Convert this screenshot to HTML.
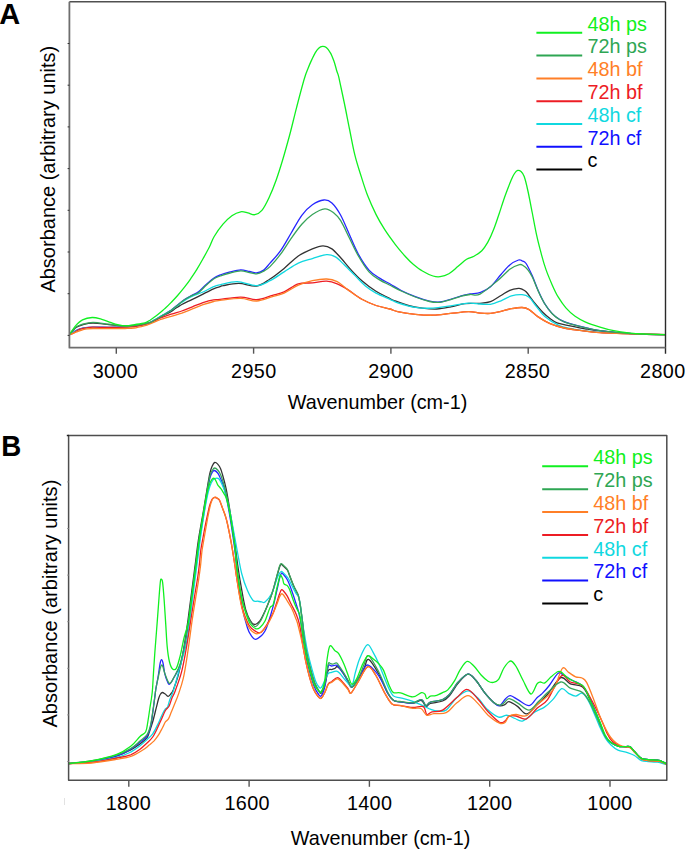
<!DOCTYPE html>
<html><head><meta charset="utf-8"><style>
html,body{margin:0;padding:0;background:#fff;width:685px;height:849px;overflow:hidden}
svg{display:block}
text{font-family:"Liberation Sans",sans-serif;font-size:19.8px}
.n{letter-spacing:0.35px}
.c path{fill:none;stroke-width:1.3;stroke-linejoin:round;stroke-linecap:round}
</style></head><body>
<svg width="685" height="849" viewBox="0 0 685 849">
<defs>
<clipPath id="ca"><rect x="69.4" y="1.7" width="596.1" height="346.0"/></clipPath>
<clipPath id="cb"><rect x="68.6" y="435.5" width="598.2" height="344.8"/></clipPath>
</defs>
<text x="-0.8" y="23.8" style="font-weight:bold;font-size:29px">A</text>
<text x="1" y="455.6" style="font-weight:bold;font-size:28.6px" transform="translate(0.3,0) scale(0.97,1)">B</text>
<g class="c">
<path d="M69.4,334.7 C70.5,333.5 73.8,329.1 76.0,327.5 C78.2,325.9 79.7,325.5 82.5,324.8 C85.3,324.1 88.6,323.2 93.0,323.2 C97.4,323.2 103.8,324.1 108.8,324.6 C113.8,325.1 118.6,325.8 122.8,326.0 C127.0,326.2 130.8,326.2 134.0,326.0 C137.2,325.8 139.2,325.5 141.9,325.0 C144.6,324.5 147.8,323.6 150.0,322.8 C152.2,322.0 153.5,321.1 155.3,320.2 C157.1,319.3 158.8,318.2 160.6,317.2 C162.4,316.2 164.2,315.3 166.0,314.3 C167.8,313.3 169.4,312.5 171.2,311.4 C172.9,310.3 174.7,308.9 176.5,307.8 C178.3,306.7 180.1,305.5 181.8,304.5 C183.6,303.5 185.2,302.7 187.0,301.8 C188.8,300.9 189.7,300.7 192.4,299.4 C195.1,298.1 199.5,295.9 203.0,294.1 C206.5,292.3 210.8,290.0 213.6,288.8 C216.4,287.6 218.4,287.2 220.0,286.7 C221.6,286.2 219.8,286.2 223.0,285.7 C226.2,285.1 233.3,283.3 238.9,283.4 C244.5,283.4 251.4,286.7 256.6,286.0 C261.8,285.3 265.4,281.9 270.0,279.0 C274.6,276.1 279.4,272.2 284.1,268.4 C288.8,264.6 293.6,259.2 298.3,256.0 C303.0,252.8 308.3,250.6 312.4,248.9 C316.5,247.2 319.8,245.9 323.0,245.9 C326.2,245.9 328.9,246.9 331.9,248.9 C334.8,250.9 337.5,254.3 340.7,257.8 C343.9,261.3 347.8,266.3 351.3,270.1 C354.8,273.9 357.8,277.2 361.9,280.7 C366.0,284.2 371.6,288.5 376.0,291.3 C380.4,294.1 385.0,296.0 388.0,297.5 C391.0,299.0 390.7,299.2 394.1,300.5 C397.5,301.8 403.6,304.2 408.3,305.5 C413.0,306.8 417.7,307.5 422.4,308.1 C427.1,308.7 431.9,309.2 436.6,309.0 C441.3,308.8 446.0,307.8 450.7,306.9 C455.4,306.0 460.7,304.3 464.8,303.7 C468.9,303.1 472.9,303.4 475.4,303.4 C477.9,303.3 477.5,303.7 480.0,303.4 C482.5,303.1 487.0,303.0 490.5,301.7 C494.0,300.4 497.8,297.4 501.0,295.5 C504.2,293.6 506.9,291.5 509.8,290.3 C512.7,289.1 516.5,288.6 518.5,288.4 C520.5,288.2 520.7,288.6 522.0,289.2 C523.3,289.8 524.1,289.7 526.1,291.8 C528.1,293.9 531.0,298.4 533.8,301.8 C536.6,305.2 540.2,309.6 543.0,312.5 C545.8,315.4 548.3,317.3 550.6,319.0 C552.9,320.7 554.2,321.8 557.0,322.8 C559.8,323.9 562.9,324.3 567.6,325.3 C572.3,326.3 579.7,327.9 585.1,328.8 C590.5,329.7 591.6,330.0 600.0,330.9 C608.4,331.8 624.7,333.3 635.7,333.9 C646.7,334.5 661.0,334.6 666.0,334.7" stroke="#333333" clip-path="url(#ca)"/>
<path d="M69.4,334.7 C70.0,334.3 71.7,333.1 73.0,332.3 C74.3,331.5 75.8,330.5 77.5,329.8 C79.2,329.1 80.8,328.4 83.4,328.0 C86.0,327.6 88.8,327.3 93.0,327.2 C97.2,327.1 103.8,327.3 108.8,327.3 C113.8,327.3 118.6,327.2 122.8,327.0 C127.0,326.8 130.8,326.3 134.0,325.8 C137.2,325.3 139.2,324.8 141.9,324.2 C144.6,323.6 147.8,323.1 150.0,322.3 C152.2,321.5 153.5,320.5 155.3,319.5 C157.1,318.5 158.8,317.4 160.6,316.4 C162.4,315.3 164.2,314.3 166.0,313.2 C167.8,312.1 169.4,311.2 171.2,310.0 C172.9,308.8 174.7,307.2 176.5,305.8 C178.3,304.4 180.1,302.8 181.8,301.5 C183.6,300.2 185.2,299.1 187.0,298.0 C188.8,296.9 190.4,296.2 192.4,295.1 C194.4,294.0 196.5,293.4 198.8,291.6 C201.1,289.8 203.7,286.7 206.2,284.5 C208.7,282.3 211.1,279.9 213.6,278.2 C216.1,276.5 218.6,275.6 221.3,274.5 C224.1,273.4 226.9,272.7 230.1,271.9 C233.3,271.1 237.5,269.9 240.7,269.8 C243.9,269.7 246.8,271.0 249.5,271.5 C252.2,272.0 254.2,273.0 256.6,272.8 C259.0,272.6 261.5,271.7 263.7,270.1 C265.9,268.5 267.2,266.3 270.0,263.1 C272.8,259.9 277.1,255.7 280.6,250.7 C284.1,245.7 287.7,238.9 291.2,233.0 C294.7,227.1 298.3,220.0 301.8,215.3 C305.3,210.6 308.7,207.2 312.4,204.7 C316.1,202.1 320.6,200.3 323.9,200.0 C327.1,199.7 329.1,200.4 331.9,203.0 C334.7,205.6 337.8,210.0 340.7,215.3 C343.6,220.6 346.6,228.3 349.5,234.8 C352.4,241.3 355.1,248.3 358.4,254.2 C361.6,260.1 365.5,266.1 369.0,270.1 C372.5,274.1 376.0,275.7 379.6,278.1 C383.2,280.5 387.0,282.2 390.6,284.3 C394.2,286.4 397.1,288.4 401.2,290.5 C405.3,292.6 410.6,294.8 415.3,296.6 C420.0,298.4 425.4,300.2 429.5,301.1 C433.6,302.0 436.6,302.3 440.1,302.0 C443.6,301.7 447.2,300.3 450.7,299.3 C454.2,298.3 458.1,296.7 461.3,295.8 C464.5,294.9 466.9,294.6 470.1,294.0 C473.3,293.4 477.2,293.5 480.6,292.3 C484.0,291.1 487.1,289.8 490.5,286.8 C493.9,283.8 497.8,278.1 501.0,274.5 C504.2,270.9 506.9,267.3 509.8,264.9 C512.7,262.5 516.5,260.7 518.5,260.0 C520.5,259.3 520.7,260.2 522.0,260.8 C523.3,261.4 524.4,261.0 526.1,263.5 C527.8,266.0 530.2,271.2 532.3,275.8 C534.3,280.4 536.4,286.5 538.4,291.1 C540.4,295.7 542.2,299.6 544.5,303.3 C546.8,307.1 549.7,310.9 552.2,313.6 C554.8,316.3 556.8,317.8 559.8,319.5 C562.8,321.2 563.3,321.8 570.0,323.6 C576.7,325.5 589.0,328.9 600.0,330.6 C611.0,332.3 624.7,333.2 635.7,333.9 C646.7,334.6 661.0,334.6 666.0,334.7" stroke="#2626ff" clip-path="url(#ca)"/>
<path d="M69.4,334.7 C70.0,334.3 71.7,333.2 73.0,332.5 C74.3,331.8 75.8,330.9 77.5,330.2 C79.2,329.5 80.8,328.7 83.4,328.2 C86.0,327.7 88.6,327.4 93.0,327.3 C97.4,327.2 104.7,327.4 110.0,327.3 C115.3,327.2 121.0,327.2 125.0,327.0 C129.0,326.8 131.2,326.4 134.0,326.0 C136.8,325.6 139.2,325.1 141.9,324.5 C144.6,323.9 147.8,323.1 150.0,322.3 C152.2,321.5 153.5,320.5 155.3,319.5 C157.1,318.5 158.8,317.4 160.6,316.4 C162.4,315.4 164.2,314.4 166.0,313.4 C167.8,312.4 169.4,311.5 171.2,310.3 C172.9,309.1 174.7,307.6 176.5,306.3 C178.3,305.0 180.1,303.5 181.8,302.3 C183.6,301.1 185.2,300.0 187.0,299.0 C188.8,298.0 189.7,297.4 192.4,296.2 C195.1,295.0 199.5,293.6 203.0,292.0 C206.5,290.4 210.8,287.9 213.6,286.7 C216.4,285.5 216.1,285.6 220.0,284.8 C223.9,284.0 231.1,281.5 237.2,281.6 C243.3,281.8 251.1,285.9 256.6,285.7 C262.1,285.5 265.4,283.0 270.0,280.7 C274.6,278.4 279.4,274.8 284.1,271.9 C288.8,269.0 293.6,265.3 298.3,263.1 C303.0,260.9 307.7,260.0 312.4,258.6 C317.1,257.2 322.8,254.9 326.6,254.6 C330.4,254.3 332.5,255.2 335.4,256.9 C338.3,258.6 341.0,261.7 344.2,264.8 C347.4,267.9 351.3,271.9 354.8,275.4 C358.3,278.9 361.9,283.1 365.4,286.0 C368.9,288.9 371.9,290.9 376.0,293.1 C380.1,295.3 386.4,297.7 390.0,299.3 C393.6,300.9 393.5,301.5 397.7,302.8 C401.9,304.1 409.4,306.4 415.3,307.3 C421.2,308.2 427.1,308.4 433.0,308.1 C438.9,307.9 444.8,306.6 450.7,305.8 C456.6,305.0 463.5,303.5 468.4,303.2 C473.3,302.9 476.3,303.8 480.0,304.0 C483.7,304.2 487.0,304.8 490.5,304.3 C494.0,303.8 497.5,302.2 501.0,300.8 C504.5,299.4 508.0,296.9 511.5,295.9 C515.0,294.9 519.1,294.5 522.0,294.7 C524.9,294.9 526.8,295.4 529.1,297.3 C531.5,299.2 533.5,302.9 536.1,306.1 C538.7,309.3 541.0,313.4 544.8,316.6 C548.6,319.8 553.5,323.1 558.8,325.3 C564.1,327.5 569.5,328.5 576.4,329.7 C583.3,330.9 590.1,331.6 600.0,332.3 C609.9,333.0 624.7,333.5 635.7,333.9 C646.7,334.3 661.0,334.6 666.0,334.7" stroke="#10d8e0" clip-path="url(#ca)"/>
<path d="M69.4,334.7 C70.0,334.5 71.7,334.1 73.0,333.4 C74.3,332.7 76.0,331.1 77.5,330.3 C79.0,329.5 80.4,329.1 82.0,328.7 C83.6,328.2 85.2,327.8 87.0,327.6 C88.8,327.3 89.2,327.2 93.0,327.2 C96.8,327.2 104.7,327.4 110.0,327.4 C115.3,327.4 121.0,327.3 125.0,327.2 C129.0,327.1 130.7,327.2 134.0,326.7 C137.3,326.2 142.3,324.9 145.0,324.2 C147.7,323.5 148.3,323.2 150.0,322.6 C151.7,322.0 153.5,321.1 155.3,320.3 C157.1,319.5 157.9,319.0 160.6,318.0 C163.2,317.0 167.7,315.4 171.2,314.2 C174.7,313.0 178.3,312.2 181.8,311.0 C185.3,309.8 188.9,308.2 192.4,306.8 C195.9,305.4 199.5,303.8 203.0,302.6 C206.5,301.5 210.8,300.4 213.6,299.9 C216.4,299.4 215.5,299.9 220.0,299.4 C224.5,298.9 234.6,297.0 240.7,297.1 C246.8,297.1 251.3,300.0 256.6,299.7 C261.9,299.4 267.9,296.6 272.5,295.3 C277.1,294.0 279.8,293.7 284.1,291.8 C288.4,289.9 293.6,285.4 298.3,283.9 C303.0,282.4 307.7,283.3 312.4,282.9 C317.1,282.4 322.5,281.0 326.6,281.2 C330.7,281.4 333.7,282.4 337.2,283.8 C340.7,285.2 343.7,287.0 347.8,289.6 C351.9,292.2 357.2,296.7 361.9,299.3 C366.6,301.9 371.3,303.9 376.0,305.5 C380.7,307.1 386.4,308.0 390.0,309.0 C393.6,310.0 393.5,310.8 397.7,311.7 C401.9,312.6 409.4,313.7 415.3,314.3 C421.2,314.9 427.1,315.4 433.0,315.2 C438.9,315.0 444.8,314.0 450.7,313.4 C456.6,312.8 463.5,311.8 468.4,311.7 C473.3,311.6 476.3,312.8 480.0,313.1 C483.7,313.4 487.0,313.7 490.5,313.4 C494.0,313.1 497.5,312.1 501.0,311.3 C504.5,310.5 508.0,309.3 511.5,308.7 C515.0,308.1 519.1,307.4 522.0,307.5 C524.9,307.6 526.5,308.1 529.1,309.6 C531.7,311.1 534.3,314.3 537.8,316.6 C541.3,318.9 545.7,321.7 550.1,323.6 C554.5,325.5 558.9,326.8 564.1,328.0 C569.4,329.2 575.6,329.8 581.6,330.6 C587.6,331.4 591.0,332.1 600.0,332.7 C609.0,333.3 624.7,333.7 635.7,334.0 C646.7,334.3 661.0,334.6 666.0,334.7" stroke="#ed1c24" clip-path="url(#ca)"/>
<path d="M69.4,334.7 C70.0,334.5 71.7,333.9 73.0,333.4 C74.3,332.9 76.0,332.2 77.5,331.6 C79.0,331.0 80.4,330.4 82.0,330.0 C83.6,329.6 85.2,329.1 87.0,328.9 C88.8,328.6 89.2,328.5 93.0,328.5 C96.8,328.5 104.7,328.7 110.0,328.7 C115.3,328.7 121.0,328.6 125.0,328.5 C129.0,328.4 130.7,328.5 134.0,328.0 C137.3,327.5 142.3,326.2 145.0,325.5 C147.7,324.8 148.3,324.4 150.0,323.8 C151.7,323.2 153.5,322.3 155.3,321.6 C157.1,320.9 157.9,320.4 160.6,319.5 C163.2,318.6 167.7,317.4 171.2,316.4 C174.7,315.3 178.3,314.4 181.8,313.2 C185.3,311.9 188.9,310.3 192.4,308.9 C195.9,307.5 199.5,305.9 203.0,304.7 C206.5,303.5 210.8,302.2 213.6,301.5 C216.4,300.8 215.5,300.9 220.0,300.4 C224.5,299.9 234.6,298.3 240.7,298.4 C246.8,298.5 251.3,301.3 256.6,301.0 C261.9,300.7 267.9,297.9 272.5,296.6 C277.1,295.3 279.8,295.0 284.1,293.1 C288.4,291.2 293.6,287.3 298.3,285.2 C303.0,283.1 307.7,281.7 312.4,280.7 C317.1,279.7 322.5,278.9 326.6,279.0 C330.7,279.1 333.7,279.8 337.2,281.6 C340.7,283.4 343.7,286.7 347.8,289.6 C351.9,292.6 357.2,296.7 361.9,299.3 C366.6,301.9 371.3,303.9 376.0,305.5 C380.7,307.1 386.4,308.0 390.0,309.0 C393.6,310.0 393.5,310.8 397.7,311.7 C401.9,312.6 409.4,313.7 415.3,314.3 C421.2,314.9 427.1,315.4 433.0,315.2 C438.9,315.0 444.8,314.0 450.7,313.4 C456.6,312.8 463.5,311.8 468.4,311.7 C473.3,311.6 476.3,312.8 480.0,313.1 C483.7,313.4 487.0,313.7 490.5,313.4 C494.0,313.1 497.5,312.1 501.0,311.3 C504.5,310.5 508.0,309.3 511.5,308.7 C515.0,308.1 519.1,307.4 522.0,307.5 C524.9,307.6 526.5,308.1 529.1,309.6 C531.7,311.1 534.3,314.3 537.8,316.6 C541.3,318.9 545.7,321.7 550.1,323.6 C554.5,325.5 558.9,326.8 564.1,328.0 C569.4,329.2 575.6,329.8 581.6,330.6 C587.6,331.4 591.0,332.1 600.0,332.7 C609.0,333.3 624.7,333.7 635.7,334.0 C646.7,334.3 661.0,334.6 666.0,334.7" stroke="#ff7f27" clip-path="url(#ca)"/>
<path d="M69.4,334.7 C70.5,333.4 73.8,328.8 76.0,327.0 C78.2,325.2 79.7,325.0 82.5,324.2 C85.3,323.4 88.6,322.4 93.0,322.4 C97.4,322.4 103.8,323.6 108.8,324.2 C113.8,324.8 118.6,325.7 122.8,325.9 C127.0,326.1 130.8,325.8 134.0,325.5 C137.2,325.2 139.2,324.7 141.9,324.2 C144.6,323.7 147.8,323.3 150.0,322.6 C152.2,321.9 153.5,320.8 155.3,319.8 C157.1,318.8 158.8,317.8 160.6,316.7 C162.4,315.6 164.2,314.6 166.0,313.5 C167.8,312.4 169.4,311.5 171.2,310.3 C172.9,309.1 174.7,307.5 176.5,306.1 C178.3,304.7 180.1,303.1 181.8,301.8 C183.6,300.5 185.2,299.4 187.0,298.3 C188.8,297.2 190.4,296.4 192.4,295.4 C194.4,294.4 196.5,294.1 198.8,292.4 C201.1,290.7 203.7,287.5 206.2,285.3 C208.7,283.1 211.1,280.6 213.6,279.0 C216.1,277.4 218.6,276.6 221.3,275.6 C224.1,274.6 226.9,273.8 230.1,273.0 C233.3,272.2 237.5,271.0 240.7,270.9 C243.9,270.8 246.8,272.1 249.5,272.6 C252.2,273.1 254.2,274.1 256.6,273.9 C259.0,273.7 261.5,272.4 263.7,271.2 C265.9,270.0 267.2,269.4 270.0,266.6 C272.8,263.8 277.1,258.9 280.6,254.2 C284.1,249.5 287.7,243.3 291.2,238.3 C294.7,233.3 298.3,228.2 301.8,224.2 C305.3,220.2 308.6,217.1 312.4,214.5 C316.2,211.9 321.3,209.1 324.8,208.8 C328.3,208.5 331.0,210.7 333.6,212.7 C336.2,214.7 338.1,216.4 340.7,220.7 C343.3,225.0 346.6,232.4 349.5,238.3 C352.4,244.2 355.1,250.4 358.4,256.0 C361.6,261.6 365.5,267.9 369.0,271.9 C372.5,275.9 376.0,277.6 379.6,279.9 C383.2,282.2 387.0,283.6 390.6,285.5 C394.2,287.4 397.1,289.1 401.2,291.0 C405.3,292.9 410.6,295.2 415.3,297.0 C420.0,298.8 425.4,300.6 429.5,301.5 C433.6,302.4 436.6,302.6 440.1,302.3 C443.6,302.0 447.2,300.6 450.7,299.6 C454.2,298.6 458.1,297.1 461.3,296.2 C464.5,295.3 467.0,294.9 470.1,294.5 C473.2,294.1 475.4,296.4 480.0,294.1 C484.6,291.8 492.5,284.8 497.5,280.7 C502.5,276.6 506.2,272.0 509.8,269.3 C513.5,266.6 517.2,265.3 519.4,264.7 C521.6,264.1 521.6,264.7 523.0,265.5 C524.4,266.3 526.2,267.7 527.7,269.6 C529.2,271.5 530.5,273.3 532.3,277.0 C534.1,280.7 536.4,287.2 538.4,291.6 C540.4,296.0 542.2,299.8 544.5,303.5 C546.8,307.2 549.7,311.1 552.2,313.8 C554.8,316.5 556.8,318.0 559.8,319.7 C562.8,321.4 563.3,322.0 570.0,323.8 C576.7,325.6 589.0,328.9 600.0,330.6 C611.0,332.3 624.7,333.2 635.7,333.9 C646.7,334.6 661.0,334.6 666.0,334.7" stroke="#38a45a" clip-path="url(#ca)"/>
<path d="M69.4,334.7 C70.4,333.2 73.3,328.4 75.5,325.9 C77.7,323.4 79.7,321.2 82.5,319.8 C85.3,318.4 89.0,317.6 92.2,317.5 C95.4,317.4 98.8,318.5 101.8,319.3 C104.8,320.1 107.9,321.5 110.5,322.4 C113.1,323.3 115.0,324.1 117.6,324.7 C120.2,325.3 123.5,325.9 126.3,325.9 C129.1,325.9 131.5,325.1 134.6,324.6 C137.7,324.1 142.2,323.5 144.8,322.8 C147.4,322.1 148.2,321.2 150.0,320.2 C151.8,319.1 153.5,317.8 155.3,316.5 C157.1,315.2 158.8,313.8 160.6,312.3 C162.4,310.8 164.2,309.1 166.0,307.5 C167.8,305.9 169.3,304.4 171.2,302.4 C173.1,300.4 175.5,297.9 177.6,295.5 C179.7,293.1 181.8,290.6 183.9,287.9 C186.0,285.2 188.2,282.4 190.3,279.3 C192.4,276.2 194.6,273.0 196.7,269.6 C198.8,266.2 200.9,262.6 203.0,258.8 C205.1,255.0 207.5,250.7 209.4,247.0 C211.3,243.3 211.9,240.3 214.2,236.5 C216.5,232.7 220.1,227.6 223.0,224.2 C225.9,220.8 229.0,217.9 231.9,215.8 C234.8,213.7 238.0,212.3 240.7,211.8 C243.3,211.3 245.5,212.4 247.8,212.9 C250.2,213.4 252.5,215.1 254.8,214.7 C257.1,214.3 259.5,213.1 261.9,210.3 C264.3,207.5 266.6,202.8 269.0,197.7 C271.4,192.6 274.0,186.2 276.2,180.0 C278.4,173.8 280.2,168.1 282.4,160.8 C284.6,153.5 287.0,144.8 289.4,136.0 C291.8,127.2 294.0,117.4 296.5,107.8 C299.0,98.2 302.4,85.1 304.4,78.5 C306.3,71.9 307.0,71.1 308.2,68.0 C309.4,64.9 310.5,62.4 311.7,59.9 C312.9,57.4 314.0,54.8 315.2,52.8 C316.4,50.8 317.5,49.3 318.7,48.2 C319.9,47.1 321.2,46.5 322.5,46.4 C323.8,46.3 325.0,46.5 326.3,47.6 C327.6,48.7 329.1,50.6 330.4,52.8 C331.7,55.0 332.8,58.0 333.9,61.0 C335.0,64.0 336.0,68.2 336.8,71.0 C337.6,73.8 337.7,72.5 338.9,77.7 C340.1,83.0 342.4,94.0 344.2,102.5 C346.0,111.0 347.7,120.2 349.5,129.0 C351.3,137.8 352.9,147.3 354.9,155.2 C356.8,163.1 359.1,169.7 361.2,176.4 C363.3,183.1 365.1,189.1 367.6,195.5 C370.1,201.9 373.3,208.9 376.1,214.6 C378.9,220.2 381.4,224.4 384.6,229.4 C387.8,234.4 391.7,239.7 395.2,244.3 C398.7,248.9 402.8,253.6 405.8,257.0 C408.9,260.4 410.7,262.2 413.5,264.5 C416.3,266.8 419.1,269.1 422.4,271.0 C425.6,272.9 430.1,275.1 433.0,276.0 C435.9,276.9 437.5,277.1 440.1,276.7 C442.8,276.3 445.9,275.4 448.9,273.7 C451.8,272.0 454.9,269.0 457.8,266.6 C460.8,264.2 463.9,260.9 466.6,259.2 C469.3,257.5 471.5,257.6 474.0,256.2 C476.5,254.8 479.5,253.0 481.8,250.7 C484.1,248.4 485.7,245.9 487.7,242.4 C489.7,238.9 491.7,234.4 493.6,229.5 C495.6,224.6 497.4,218.7 499.4,213.0 C501.3,207.3 503.3,200.8 505.3,195.3 C507.3,189.8 509.7,183.6 511.2,180.0 C512.7,176.4 513.4,175.1 514.5,173.5 C515.6,171.9 516.6,170.7 517.7,170.4 C518.8,170.1 519.9,170.5 521.0,171.5 C522.1,172.5 523.1,173.4 524.2,176.5 C525.3,179.6 526.4,183.9 527.7,190.0 C529.1,196.1 530.8,205.3 532.3,213.0 C533.8,220.7 535.3,229.0 536.8,235.9 C538.3,242.8 539.9,248.7 541.4,254.3 C542.9,259.9 544.2,264.5 546.0,269.6 C547.8,274.7 550.2,280.3 552.2,284.9 C554.2,289.5 556.0,293.4 558.3,297.2 C560.6,301.0 563.1,304.7 565.9,307.9 C568.7,311.1 571.9,314.0 575.1,316.3 C578.3,318.6 581.0,320.0 585.1,321.8 C589.2,323.6 595.2,325.6 600.0,327.1 C604.8,328.6 609.1,329.8 613.8,330.7 C618.5,331.6 623.5,332.3 628.4,332.8 C633.3,333.3 636.7,333.6 643.0,333.9 C649.3,334.2 662.2,334.6 666.0,334.7" stroke="#10f020" clip-path="url(#ca)"/>
</g>
<line x1="69.4" y1="1.7" x2="665.5" y2="1.7" stroke="#505050" stroke-width="1.4"/>
<line x1="665.5" y1="1.7" x2="665.5" y2="353.7" stroke="#2a2a2a" stroke-width="1.4"/>
<path d="M69.4,1.7 V347.7 H665.5" stroke="#6e6e6e" stroke-width="1.8" fill="none" stroke-linejoin="round"/>
<line x1="67.6" y1="43.5" x2="69.4" y2="43.5" stroke="#333" stroke-width="1"/>
<line x1="67.6" y1="85.2" x2="69.4" y2="85.2" stroke="#333" stroke-width="1"/>
<line x1="67.6" y1="126.9" x2="69.4" y2="126.9" stroke="#333" stroke-width="1"/>
<line x1="67.6" y1="168.6" x2="69.4" y2="168.6" stroke="#333" stroke-width="1"/>
<line x1="67.6" y1="210.3" x2="69.4" y2="210.3" stroke="#333" stroke-width="1"/>
<line x1="67.6" y1="252.0" x2="69.4" y2="252.0" stroke="#333" stroke-width="1"/>
<line x1="67.6" y1="293.7" x2="69.4" y2="293.7" stroke="#333" stroke-width="1"/>
<line x1="67.6" y1="335.4" x2="69.4" y2="335.4" stroke="#333" stroke-width="1"/>
<line x1="116.3" y1="347.7" x2="116.3" y2="353.7" stroke="#555" stroke-width="1.4"/>
<line x1="253.6" y1="347.7" x2="253.6" y2="353.7" stroke="#555" stroke-width="1.4"/>
<line x1="390.9" y1="347.7" x2="390.9" y2="353.7" stroke="#555" stroke-width="1.4"/>
<line x1="528.2" y1="347.7" x2="528.2" y2="353.7" stroke="#555" stroke-width="1.4"/>
<text class="n" x="115.4" y="377.6" text-anchor="middle">3000</text>
<text class="n" x="253.8" y="377.6" text-anchor="middle">2950</text>
<text class="n" x="390.9" y="377.6" text-anchor="middle">2900</text>
<text class="n" x="527.4" y="377.6" text-anchor="middle">2850</text>
<text class="n" x="662.8" y="377.6" text-anchor="middle">2800</text>
<text x="377.5" y="408.6" text-anchor="middle">Wavenumber (cm-1)</text>
<text transform="translate(54.7,169.2) rotate(-90)" text-anchor="middle" style="font-size:20px">Absorbance (arbitrary units)</text>
<line x1="536.4" y1="32.8" x2="582.2" y2="32.8" stroke="#10f020" stroke-width="2"/>
<text x="587.4" y="30.6" fill="#10f020">48h ps</text>
<line x1="536.4" y1="55.6" x2="582.2" y2="55.6" stroke="#2ea653" stroke-width="2"/>
<text x="587.4" y="53.4" fill="#2ea653">72h ps</text>
<line x1="536.4" y1="78.4" x2="582.2" y2="78.4" stroke="#ff7f27" stroke-width="2"/>
<text x="587.4" y="76.2" fill="#ff7f27">48h bf</text>
<line x1="536.4" y1="101.2" x2="582.2" y2="101.2" stroke="#ed1c24" stroke-width="2"/>
<text x="587.4" y="99.0" fill="#ed1c24">72h bf</text>
<line x1="536.4" y1="124.0" x2="582.2" y2="124.0" stroke="#10d8e0" stroke-width="2"/>
<text x="587.4" y="121.8" fill="#10d8e0">48h cf</text>
<line x1="536.4" y1="146.8" x2="582.2" y2="146.8" stroke="#1010ff" stroke-width="2"/>
<text x="587.4" y="144.6" fill="#1010ff">72h cf</text>
<line x1="536.4" y1="169.6" x2="582.2" y2="169.6" stroke="#000000" stroke-width="2"/>
<text x="587.4" y="167.4" fill="#000000">c</text>
<g class="c">
<path d="M68.6,763.5 C72.3,763.2 82.9,762.8 90.9,761.5 C98.9,760.2 110.2,758.0 116.8,756.0 C123.4,754.0 126.8,751.8 130.7,749.8 C134.6,747.8 137.3,746.0 140.0,744.0 C142.7,742.0 145.6,739.5 147.1,737.6 C148.6,735.7 148.3,735.0 149.2,732.4 C150.1,729.8 151.5,725.9 152.7,721.8 C153.9,717.7 155.3,711.5 156.3,707.7 C157.3,703.9 157.8,701.2 158.5,699.0 C159.2,696.8 159.5,695.6 160.2,694.5 C160.8,693.4 161.6,692.6 162.4,692.5 C163.2,692.4 164.2,693.4 165.2,694.0 C166.2,694.6 167.2,696.5 168.2,696.4 C169.2,696.3 170.3,694.6 171.1,693.5 C171.9,692.4 172.0,692.9 173.2,690.0 C174.3,687.1 176.3,682.3 178.0,676.0 C179.7,669.7 181.5,661.3 183.2,652.0 C184.9,642.7 186.8,628.7 188.0,620.0 C189.2,611.3 189.7,606.7 190.6,600.0 C191.5,593.3 192.3,586.7 193.2,580.0 C194.1,573.3 194.9,566.7 195.8,560.0 C196.7,553.3 197.2,547.6 198.4,540.0 C199.6,532.4 201.4,522.7 202.8,514.6 C204.2,506.5 205.5,498.2 206.7,491.3 C207.9,484.4 208.9,477.4 209.9,473.1 C210.9,468.8 211.7,467.2 212.5,465.4 C213.3,463.6 213.8,462.7 214.7,462.5 C215.6,462.3 216.8,463.2 217.7,464.1 C218.6,465.0 219.5,466.1 220.3,468.0 C221.2,469.9 221.8,472.2 222.8,475.7 C223.8,479.1 225.0,483.5 226.1,488.7 C227.2,493.9 228.2,500.3 229.3,506.8 C230.4,513.3 231.6,521.1 232.6,527.6 C233.6,534.1 234.3,539.5 235.2,545.7 C236.0,551.9 236.9,559.3 237.7,565.0 C238.5,570.7 239.1,574.7 240.0,580.0 C240.9,585.3 242.0,591.8 243.0,597.0 C244.0,602.2 244.9,607.0 246.1,611.0 C247.3,615.0 248.9,618.5 250.3,620.7 C251.7,623.0 252.8,624.6 254.5,624.5 C256.1,624.4 258.4,622.5 260.2,620.3 C261.9,618.1 263.5,614.4 265.0,611.2 C266.5,608.0 267.7,604.9 269.1,601.3 C270.5,597.7 271.8,594.2 273.2,589.7 C274.6,585.2 276.3,578.3 277.4,574.5 C278.5,570.7 279.0,568.7 279.6,567.0 C280.2,565.3 280.5,564.7 281.1,564.5 C281.7,564.3 282.0,564.9 283.0,565.8 C284.0,566.7 286.2,568.3 287.3,570.0 C288.4,571.7 288.6,573.2 289.7,576.0 C290.8,578.8 292.5,583.5 293.9,586.6 C295.3,589.7 297.1,592.3 298.0,594.8 C298.9,597.3 299.1,598.5 299.6,601.5 C300.2,604.5 300.8,609.1 301.3,613.0 C301.9,616.9 302.4,620.5 302.9,625.0 C303.4,629.5 303.8,634.8 304.5,640.0 C305.2,645.2 306.2,650.8 307.3,656.0 C308.4,661.2 309.8,666.4 311.0,671.0 C312.2,675.6 313.6,680.2 314.8,683.5 C316.1,686.8 317.4,688.9 318.5,690.5 C319.6,692.1 320.1,694.1 321.2,693.0 C322.3,691.9 323.8,687.7 325.0,684.0 C326.2,680.3 327.1,673.0 328.2,670.6 C329.3,668.2 330.5,669.9 331.7,669.5 C332.9,669.1 334.3,668.8 335.2,668.3 C336.1,667.8 336.1,666.4 336.9,666.5 C337.7,666.6 338.8,667.7 339.9,668.9 C341.0,670.1 342.0,671.6 343.4,673.5 C344.8,675.4 346.6,678.2 348.0,680.5 C349.4,682.8 350.1,687.6 351.8,687.2 C353.5,686.9 356.3,681.6 358.4,678.4 C360.5,675.2 362.5,671.4 364.2,668.2 C365.9,665.0 366.2,658.4 368.6,659.4 C371.0,660.4 375.6,668.4 378.8,674.0 C382.0,679.6 385.2,688.6 387.6,693.0 C390.0,697.4 391.3,698.8 393.4,700.3 C395.5,701.8 396.8,701.3 400.0,701.8 C403.2,702.3 409.2,703.3 412.8,703.1 C416.4,702.9 419.3,699.9 421.5,700.5 C423.7,701.1 424.4,706.0 425.9,706.5 C427.4,707.0 427.5,704.4 430.3,703.5 C433.1,702.6 439.4,702.3 442.6,701.0 C445.8,699.7 447.0,698.5 449.6,695.5 C452.2,692.5 455.2,686.5 458.3,683.0 C461.4,679.5 465.1,674.7 468.0,674.2 C470.9,673.8 473.0,677.2 475.8,680.3 C478.6,683.4 481.7,689.0 484.6,692.6 C487.5,696.2 490.9,700.0 493.4,702.2 C495.9,704.4 497.6,705.3 499.5,705.7 C501.4,706.1 503.4,705.2 505.0,704.5 C506.6,703.8 506.9,701.4 509.0,701.7 C511.1,702.1 514.9,704.6 517.8,706.6 C520.7,708.6 523.3,714.2 526.5,713.9 C529.7,713.6 533.5,708.1 537.0,704.8 C540.5,701.5 543.6,698.8 547.6,694.3 C551.6,689.8 556.9,679.5 560.7,677.7 C564.5,676.0 566.6,682.2 570.3,683.8 C573.9,685.3 579.4,684.5 582.6,687.0 C585.8,689.5 587.0,693.7 589.6,699.0 C592.2,704.3 595.8,712.8 598.4,719.0 C601.0,725.2 603.1,732.6 605.2,736.5 C607.3,740.4 608.9,741.0 611.0,742.6 C613.1,744.2 615.9,745.4 618.0,746.1 C620.1,746.8 621.9,746.6 623.9,746.7 C625.9,746.8 628.0,745.9 629.7,746.7 C631.5,747.5 632.5,749.5 634.4,751.4 C636.3,753.3 639.1,757.0 641.4,758.4 C643.7,759.8 646.1,759.3 648.4,759.6 C650.7,759.9 653.4,759.9 655.4,760.1 C657.4,760.3 658.2,760.0 660.1,760.7 C662.0,761.4 665.9,763.6 667.0,764.2" stroke="#333333" clip-path="url(#cb)"/>
<path d="M68.6,763.5 C72.3,763.2 82.9,762.8 90.9,761.5 C98.9,760.2 110.2,758.0 116.8,756.0 C123.4,754.0 126.8,751.5 130.7,749.2 C134.6,746.9 137.3,744.5 140.0,742.3 C142.7,740.1 145.3,738.5 147.1,735.9 C148.9,733.3 149.7,730.5 150.6,726.7 C151.5,722.9 152.0,718.2 152.7,713.3 C153.4,708.4 154.3,701.0 154.8,697.1 C155.3,693.2 155.2,693.3 155.7,690.0 C156.2,686.7 157.2,681.8 158.0,677.3 C158.8,672.8 159.6,665.9 160.2,663.0 C160.8,660.1 161.1,659.7 161.6,659.7 C162.1,659.7 162.4,660.6 163.0,663.0 C163.6,665.4 164.2,671.3 164.9,674.2 C165.6,677.1 166.2,678.8 167.0,680.5 C167.8,682.2 168.3,684.7 169.5,684.2 C170.7,683.7 172.3,680.5 174.1,677.3 C175.9,674.1 178.4,670.6 180.2,665.0 C182.0,659.4 183.5,651.1 185.0,643.6 C186.5,636.1 187.9,627.3 189.0,620.0 C190.1,612.7 190.7,606.7 191.6,600.0 C192.5,593.3 193.3,586.7 194.2,580.0 C195.1,573.3 195.9,566.7 196.8,560.0 C197.7,553.3 198.5,546.7 199.5,540.0 C200.5,533.3 201.6,527.3 202.8,520.0 C204.0,512.7 205.5,503.0 206.7,496.0 C207.9,489.0 208.9,482.0 209.9,478.0 C210.9,474.0 211.8,473.2 212.5,472.0 C213.2,470.8 213.5,470.3 214.4,470.5 C215.3,470.7 216.7,471.8 217.7,473.0 C218.7,474.2 219.5,476.2 220.3,478.0 C221.2,479.8 221.8,481.0 222.8,484.0 C223.8,487.0 225.0,491.2 226.1,496.0 C227.2,500.8 228.2,506.7 229.3,513.0 C230.4,519.3 231.6,527.3 232.6,534.0 C233.6,540.7 234.4,546.0 235.2,553.0 C236.0,560.0 236.5,567.2 237.6,576.0 C238.7,584.8 240.2,597.3 241.8,606.0 C243.5,614.7 245.9,623.0 247.5,628.0 C249.1,633.0 250.2,634.1 251.5,636.0 C252.8,637.9 253.6,639.5 255.3,639.4 C257.0,639.3 260.0,636.9 261.6,635.5 C263.2,634.1 264.0,632.8 265.0,631.0 C266.0,629.2 266.1,629.1 267.5,625.0 C268.9,620.9 271.6,612.4 273.2,606.2 C274.8,600.0 276.3,592.7 277.4,588.0 C278.5,583.3 278.9,580.5 279.6,578.0 C280.3,575.5 280.9,573.7 281.5,573.1 C282.1,572.5 282.5,573.4 283.5,574.5 C284.5,575.6 286.0,577.3 287.3,579.8 C288.6,582.3 289.9,585.6 291.4,589.7 C292.9,593.8 295.1,600.6 296.3,604.5 C297.5,608.4 298.0,609.4 298.8,612.8 C299.6,616.2 300.5,620.0 301.3,625.0 C302.1,630.0 302.9,637.4 303.8,643.0 C304.7,648.6 305.4,653.3 306.5,658.5 C307.6,663.7 309.1,669.4 310.3,674.0 C311.6,678.6 312.7,682.8 314.0,686.0 C315.3,689.2 316.8,691.9 318.0,693.5 C319.2,695.1 320.0,697.1 321.2,695.9 C322.4,694.6 323.8,690.9 325.0,686.0 C326.2,681.1 327.1,669.8 328.2,666.5 C329.3,663.2 330.3,666.2 331.7,666.0 C333.1,665.8 335.0,664.7 336.4,665.1 C337.8,665.5 338.7,666.9 339.9,668.3 C341.1,669.7 342.0,671.3 343.4,673.5 C344.8,675.7 346.6,679.4 348.0,681.7 C349.4,684.0 350.1,687.8 351.8,687.2 C353.5,686.7 356.3,681.6 358.4,678.4 C360.5,675.2 362.5,670.4 364.2,668.2 C365.9,666.0 366.2,664.0 368.6,665.3 C371.0,666.6 375.6,671.4 378.8,676.0 C382.0,680.6 385.2,689.0 387.6,693.0 C390.0,697.0 391.3,698.8 393.4,700.3 C395.5,701.8 396.8,701.3 400.0,701.8 C403.2,702.3 409.2,703.5 412.8,703.1 C416.4,702.7 419.3,699.2 421.5,699.6 C423.7,700.0 424.4,705.3 425.9,705.7 C427.4,706.1 427.5,703.2 430.3,702.2 C433.1,701.2 439.4,700.9 442.6,699.6 C445.8,698.3 447.0,697.2 449.6,694.3 C452.2,691.4 455.2,685.4 458.3,682.0 C461.4,678.6 465.1,674.5 468.0,674.2 C470.9,673.9 473.0,677.2 475.8,680.3 C478.6,683.4 481.7,689.0 484.6,692.6 C487.5,696.2 490.9,700.0 493.4,702.2 C495.9,704.4 497.5,706.3 499.5,705.7 C501.5,705.1 503.8,700.4 505.6,698.7 C507.4,697.0 508.4,695.6 510.4,695.7 C512.4,695.9 514.7,697.9 517.8,699.6 C520.9,701.3 526.0,706.0 529.2,705.7 C532.4,705.4 534.8,699.8 537.0,697.8 C539.2,695.8 540.2,695.4 542.3,693.4 C544.3,691.4 546.7,688.9 549.3,685.5 C551.9,682.1 555.8,675.0 558.1,673.3 C560.4,671.5 561.0,673.8 563.3,675.0 C565.6,676.2 568.9,678.5 572.1,680.3 C575.3,682.1 579.7,683.0 582.6,685.9 C585.5,688.8 587.0,692.3 589.6,697.8 C592.2,703.3 595.8,712.3 598.4,718.8 C601.0,725.2 603.1,732.5 605.2,736.5 C607.3,740.5 608.9,741.0 611.0,742.6 C613.1,744.2 615.9,745.4 618.0,746.1 C620.1,746.8 621.9,746.6 623.9,746.7 C625.9,746.8 628.0,745.9 629.7,746.7 C631.5,747.5 632.5,749.5 634.4,751.4 C636.3,753.3 639.1,757.0 641.4,758.4 C643.7,759.8 646.1,759.3 648.4,759.6 C650.7,759.9 653.4,759.9 655.4,760.1 C657.4,760.3 658.2,760.0 660.1,760.7 C662.0,761.4 665.9,763.6 667.0,764.2" stroke="#2626ff" clip-path="url(#cb)"/>
<path d="M68.6,763.5 C72.3,763.2 82.9,763.0 90.9,762.0 C98.9,761.0 110.2,759.1 116.8,757.5 C123.4,755.9 126.8,754.1 130.7,752.1 C134.6,750.1 137.3,747.9 140.0,745.8 C142.7,743.7 145.0,741.5 147.1,739.5 C149.2,737.5 150.9,736.3 152.7,733.8 C154.5,731.3 156.3,727.4 157.7,724.6 C159.1,721.8 160.0,719.4 161.2,716.9 C162.4,714.4 163.6,711.4 164.7,709.8 C165.8,708.1 166.8,708.6 167.6,707.0 C168.4,705.4 168.8,702.5 169.7,699.9 C170.6,697.3 171.5,696.8 173.2,691.4 C174.9,686.0 177.7,675.4 179.9,667.2 C182.1,659.1 184.8,650.4 186.5,642.5 C188.2,634.6 188.8,627.1 189.8,620.0 C190.8,612.9 191.5,606.7 192.4,600.0 C193.3,593.3 194.1,586.7 195.0,580.0 C195.9,573.3 196.7,566.7 197.6,560.0 C198.5,553.3 199.3,546.5 200.2,540.0 C201.1,533.5 201.9,527.8 203.0,521.0 C204.1,514.2 205.5,504.8 206.7,499.0 C207.9,493.2 208.9,489.2 210.0,486.0 C211.1,482.8 212.1,481.3 213.0,480.0 C213.9,478.7 214.7,478.5 215.7,478.3 C216.7,478.1 217.9,477.9 219.0,479.0 C220.1,480.1 221.0,482.1 222.2,484.8 C223.4,487.5 224.8,490.7 226.1,495.2 C227.4,499.7 228.7,505.8 230.0,512.0 C231.3,518.2 232.6,525.8 233.9,532.7 C235.2,539.6 236.4,546.6 237.7,553.5 C239.0,560.4 240.2,567.8 241.8,574.0 C243.4,580.2 245.6,586.2 247.5,590.6 C249.4,595.0 251.4,598.7 253.1,600.5 C254.8,602.3 256.0,601.0 257.4,601.2 C258.8,601.4 260.3,601.8 261.6,601.9 C262.9,602.0 263.3,603.4 265.0,602.0 C266.7,600.6 269.8,597.1 271.6,593.8 C273.4,590.5 274.6,585.3 275.7,582.2 C276.8,579.1 277.6,576.8 278.5,575.0 C279.4,573.2 280.3,571.8 281.1,571.5 C281.9,571.2 282.3,571.9 283.5,573.0 C284.7,574.1 286.7,575.9 288.1,578.1 C289.6,580.3 290.8,583.7 292.2,586.3 C293.6,588.9 295.2,592.0 296.3,593.8 C297.4,595.6 298.1,595.0 298.8,597.1 C299.5,599.2 299.8,601.6 300.5,606.2 C301.2,610.9 302.1,619.7 302.9,625.0 C303.7,630.3 304.3,633.4 305.1,638.1 C305.9,642.8 306.8,648.2 307.9,653.2 C309.0,658.2 310.4,663.7 311.7,668.3 C313.0,672.9 314.4,678.0 315.5,681.0 C316.6,684.0 317.6,685.4 318.5,686.5 C319.4,687.6 320.1,688.7 321.2,687.6 C322.3,686.5 323.8,682.4 325.0,680.0 C326.2,677.6 327.1,674.8 328.2,673.5 C329.3,672.2 330.3,672.8 331.7,672.4 C333.1,672.0 335.0,671.0 336.4,671.2 C337.8,671.4 338.3,672.0 339.9,673.5 C341.4,675.0 343.7,678.5 345.7,680.5 C347.7,682.5 350.2,687.1 351.8,685.7 C353.4,684.3 354.1,676.6 355.5,672.0 C356.9,667.4 357.9,662.5 359.9,658.0 C361.8,653.5 365.0,645.8 367.2,644.8 C369.4,643.8 371.1,648.9 373.0,652.1 C374.9,655.3 376.4,658.2 378.8,663.8 C381.2,669.4 385.2,680.4 387.6,685.7 C390.0,691.1 391.2,693.9 393.4,695.9 C395.5,697.9 397.3,696.9 400.5,697.8 C403.7,698.7 408.7,699.8 412.8,701.3 C416.9,702.8 422.1,705.3 425.0,706.6 C427.9,707.9 428.2,708.5 430.3,709.2 C432.4,709.9 434.7,710.9 437.3,711.0 C439.9,711.1 442.9,712.3 446.1,710.1 C449.3,707.9 453.0,701.0 456.6,697.8 C460.2,694.6 464.5,690.8 468.0,690.8 C471.5,690.8 474.2,694.6 477.6,697.8 C481.0,701.0 484.6,706.9 488.1,710.1 C491.6,713.3 495.7,716.2 498.6,717.1 C501.5,718.0 503.9,715.5 505.6,715.3 C507.3,715.1 507.4,715.2 509.0,715.7 C510.6,716.2 512.7,717.6 515.0,718.5 C517.3,719.4 519.6,722.0 523.0,720.9 C526.4,719.8 531.8,714.0 535.3,711.8 C538.8,709.5 541.2,709.4 544.1,707.4 C547.0,705.4 549.9,702.7 552.8,699.6 C555.7,696.5 559.0,689.7 561.6,688.7 C564.2,687.7 566.3,692.2 568.6,693.4 C570.9,694.6 573.3,696.1 575.6,696.1 C577.9,696.1 580.3,692.2 582.6,693.4 C584.9,694.6 586.7,697.4 589.6,703.1 C592.5,708.8 597.5,721.8 600.1,727.6 C602.7,733.4 603.6,735.2 605.4,738.1 C607.2,741.0 608.9,743.0 611.0,745.0 C613.1,747.0 615.3,748.9 618.0,750.2 C620.7,751.5 624.7,751.7 627.4,752.6 C630.1,753.5 632.1,754.1 634.4,755.5 C636.7,756.9 639.1,759.7 641.4,760.7 C643.7,761.7 646.1,761.3 648.4,761.5 C650.7,761.7 653.4,761.8 655.4,762.0 C657.4,762.2 658.2,762.0 660.1,762.5 C662.0,763.0 665.9,764.6 667.0,765.0" stroke="#10d8e0" clip-path="url(#cb)"/>
<path d="M68.6,763.5 C72.3,763.3 82.9,763.4 90.9,762.5 C98.9,761.6 110.2,759.3 116.8,758.0 C123.4,756.7 126.8,756.2 130.7,754.8 C134.6,753.3 137.3,751.3 140.0,749.3 C142.7,747.3 145.0,745.0 147.1,743.0 C149.2,741.0 150.9,739.6 152.7,737.0 C154.5,734.4 156.3,730.4 157.7,727.5 C159.1,724.6 159.9,722.5 161.2,719.7 C162.5,716.9 164.1,712.7 165.4,710.5 C166.7,708.3 167.9,708.3 169.0,706.3 C170.1,704.3 170.8,701.1 171.8,698.5 C172.9,695.9 173.7,695.1 175.3,690.7 C176.9,686.3 179.7,678.9 181.5,672.1 C183.3,665.3 184.4,658.7 186.0,650.0 C187.6,641.3 189.4,629.0 190.8,620.0 C192.2,611.0 193.5,602.7 194.6,596.0 C195.7,589.3 196.5,585.0 197.3,580.0 C198.1,575.0 198.6,571.0 199.2,566.0 C199.8,561.0 200.1,555.0 200.8,550.0 C201.5,545.0 202.3,541.5 203.3,536.0 C204.3,530.5 205.9,522.2 207.0,517.2 C208.1,512.2 208.8,508.6 209.6,505.8 C210.4,503.0 211.0,501.5 211.6,500.2 C212.2,498.9 212.7,498.4 213.3,498.0 C213.9,497.6 214.6,497.4 215.3,497.5 C216.0,497.6 216.8,498.0 217.5,498.5 C218.2,499.0 218.8,498.9 219.6,500.5 C220.4,502.1 221.5,505.4 222.4,507.9 C223.3,510.4 224.4,512.9 225.2,515.5 C226.0,518.1 226.4,519.2 227.4,523.7 C228.4,528.2 229.9,535.6 231.2,542.6 C232.5,549.6 234.1,560.4 235.0,566.0 C235.9,571.6 235.3,569.3 236.4,576.0 C237.5,582.7 239.7,597.8 241.8,606.0 C243.9,614.2 246.5,620.8 248.9,625.0 C251.3,629.2 254.0,630.2 256.0,631.5 C258.0,632.8 259.0,633.6 260.8,632.5 C262.6,631.4 264.5,628.3 266.6,625.0 C268.7,621.7 271.4,616.9 273.2,612.8 C275.0,608.7 276.3,603.5 277.4,600.4 C278.4,597.3 278.8,595.8 279.5,594.0 C280.2,592.2 280.8,590.2 281.5,589.7 C282.2,589.2 282.5,589.9 283.5,591.0 C284.5,592.1 286.0,594.0 287.3,596.2 C288.6,598.5 289.9,601.5 291.4,604.5 C292.9,607.5 294.9,611.0 296.3,614.4 C297.7,617.8 298.5,619.9 299.6,625.0 C300.7,630.1 301.8,639.0 302.8,645.0 C303.8,651.0 304.6,655.7 305.7,661.0 C306.8,666.3 308.2,672.3 309.5,677.0 C310.8,681.7 312.0,685.8 313.4,689.0 C314.8,692.2 316.7,695.0 318.0,696.5 C319.3,698.0 320.0,698.9 321.2,698.1 C322.4,697.4 323.8,694.4 325.0,692.0 C326.2,689.6 327.1,685.7 328.2,684.0 C329.3,682.3 330.1,682.8 331.7,681.7 C333.2,680.6 335.6,677.4 337.5,677.6 C339.4,677.8 341.6,681.0 343.4,682.9 C345.1,684.8 346.7,687.0 348.0,688.7 C349.3,690.4 349.4,694.2 351.1,693.0 C352.8,691.8 355.6,685.7 358.4,681.3 C361.2,676.9 365.0,667.7 367.9,666.7 C370.8,665.7 373.1,671.1 375.9,675.5 C378.7,679.9 382.0,688.3 384.7,693.0 C387.4,697.7 389.4,701.8 392.0,703.9 C394.6,706.0 397.0,705.1 400.5,705.7 C404.0,706.3 409.0,707.2 412.8,707.4 C416.6,707.5 421.0,705.4 423.3,706.6 C425.6,707.8 425.4,713.6 426.8,714.5 C428.2,715.4 429.4,712.5 432.0,711.8 C434.6,711.1 438.5,712.4 442.6,710.1 C446.7,707.8 452.5,701.2 456.6,697.8 C460.7,694.3 463.6,689.2 467.1,689.4 C470.6,689.5 474.1,695.0 477.6,698.7 C481.1,702.4 484.5,707.9 488.1,711.8 C491.8,715.7 496.7,720.8 499.5,722.3 C502.3,723.8 503.4,722.0 505.0,721.0 C506.6,720.0 507.2,717.0 509.0,716.2 C510.8,715.4 513.1,715.6 516.0,716.0 C518.9,716.4 523.0,720.1 526.5,718.8 C530.0,717.5 533.5,711.5 537.0,708.3 C540.5,705.1 543.6,705.0 547.6,699.6 C551.6,694.2 557.4,678.8 561.2,675.9 C565.0,673.0 566.7,680.3 570.3,682.0 C573.9,683.7 579.0,682.7 582.6,685.9 C586.2,689.1 588.9,695.2 592.2,701.3 C595.5,707.4 600.0,717.0 602.4,722.3 C604.8,727.6 605.3,729.9 606.9,733.0 C608.5,736.1 609.8,738.8 612.0,741.0 C614.2,743.2 617.0,744.9 620.0,746.0 C623.0,747.1 627.3,746.5 629.7,747.5 C632.1,748.5 632.5,750.1 634.4,752.0 C636.3,753.9 639.1,757.6 641.4,759.0 C643.7,760.4 646.1,760.2 648.4,760.5 C650.7,760.8 653.4,760.8 655.4,761.0 C657.4,761.2 658.2,760.9 660.1,761.5 C662.0,762.1 665.9,764.0 667.0,764.5" stroke="#ed1c24" clip-path="url(#cb)"/>
<path d="M68.6,763.5 C72.3,763.4 83.0,763.7 90.9,763.0 C98.8,762.3 109.5,760.5 116.1,759.4 C122.7,758.3 126.2,758.1 130.7,756.5 C135.1,754.9 139.7,751.9 142.8,750.0 C145.9,748.1 147.3,746.6 149.2,745.1 C151.1,743.6 152.6,742.5 154.1,740.9 C155.6,739.2 157.0,737.4 158.4,735.2 C159.8,733.0 161.4,729.7 162.6,727.5 C163.8,725.3 164.4,723.2 165.4,721.8 C166.4,720.4 167.4,720.7 168.3,719.2 C169.2,717.7 170.1,715.1 171.1,712.6 C172.1,710.1 173.4,707.1 174.6,704.1 C175.8,701.1 176.8,699.1 178.2,694.9 C179.6,690.7 181.6,685.5 183.2,678.7 C184.8,671.9 186.0,663.8 187.5,654.0 C189.0,644.2 190.8,629.7 192.2,620.0 C193.6,610.3 194.9,602.7 196.0,596.0 C197.1,589.3 197.8,585.0 198.6,580.0 C199.3,575.0 199.9,571.0 200.5,566.0 C201.1,561.0 201.4,555.0 202.1,550.0 C202.8,545.0 203.6,541.5 204.5,536.0 C205.4,530.5 206.9,522.2 207.8,517.2 C208.8,512.2 209.5,508.6 210.2,505.8 C210.9,503.0 211.4,501.5 212.0,500.2 C212.6,498.9 213.0,498.5 213.6,498.0 C214.2,497.5 214.7,497.2 215.3,497.2 C216.0,497.2 216.8,497.7 217.5,498.2 C218.2,498.7 218.8,498.6 219.6,500.2 C220.4,501.8 221.5,505.2 222.4,507.7 C223.3,510.2 224.4,512.7 225.2,515.3 C226.0,517.9 226.4,519.0 227.4,523.5 C228.4,528.0 229.9,535.3 231.2,542.4 C232.5,549.5 234.1,560.4 235.0,566.0 C235.9,571.6 235.3,569.1 236.4,576.0 C237.5,582.9 239.7,599.1 241.8,607.6 C243.9,616.1 246.5,622.9 248.9,627.3 C251.3,631.6 253.9,633.0 256.0,633.7 C258.1,634.4 259.8,632.9 261.6,631.6 C263.4,630.3 264.8,628.7 266.6,626.0 C268.4,623.3 270.6,619.1 272.4,615.2 C274.2,611.3 276.2,605.8 277.4,602.8 C278.6,599.8 278.8,598.5 279.5,597.0 C280.2,595.5 280.8,594.1 281.5,593.8 C282.2,593.5 282.7,594.0 283.5,595.0 C284.3,596.0 285.1,597.4 286.4,599.5 C287.7,601.6 289.9,604.8 291.4,607.8 C292.9,610.8 294.4,614.8 295.5,617.7 C296.6,620.6 296.7,620.0 298.0,625.0 C299.3,630.0 301.9,641.2 303.2,647.5 C304.5,653.8 304.9,657.6 306.0,662.6 C307.1,667.6 308.5,673.3 309.8,677.7 C311.1,682.1 312.2,686.0 313.6,689.1 C315.0,692.2 317.0,695.1 318.3,696.6 C319.6,698.1 320.1,699.1 321.2,698.3 C322.3,697.5 323.8,694.3 325.0,692.0 C326.2,689.7 327.1,686.2 328.2,684.6 C329.3,683.0 330.1,683.3 331.7,682.3 C333.2,681.3 335.6,678.5 337.5,678.8 C339.4,679.1 341.6,682.2 343.4,684.0 C345.1,685.8 346.7,688.0 348.0,689.5 C349.3,691.0 349.4,694.4 351.1,693.0 C352.8,691.6 355.6,685.7 358.4,681.3 C361.2,676.9 365.0,667.7 367.9,666.7 C370.8,665.7 373.1,671.1 375.9,675.5 C378.7,679.9 382.0,688.3 384.7,693.0 C387.4,697.7 389.4,701.8 392.0,703.9 C394.6,706.0 396.5,704.7 400.0,705.4 C403.5,706.1 409.3,707.8 412.8,708.3 C416.3,708.8 418.7,707.3 421.0,708.5 C423.3,709.7 424.7,714.4 426.8,715.3 C428.9,716.1 430.6,714.0 433.8,713.6 C437.0,713.2 442.3,714.5 446.1,712.7 C449.9,711.0 453.0,705.9 456.6,703.1 C460.2,700.3 464.5,695.7 468.0,695.7 C471.5,695.7 474.2,699.8 477.6,703.1 C481.0,706.4 484.5,711.9 488.1,715.3 C491.8,718.6 496.7,722.0 499.5,723.2 C502.3,724.4 503.4,723.7 505.0,722.5 C506.6,721.3 507.2,717.5 509.0,716.2 C510.8,714.9 513.1,714.6 516.0,714.5 C518.9,714.4 523.0,717.3 526.5,715.7 C530.0,714.1 533.5,708.1 537.0,704.8 C540.5,701.5 544.7,699.0 547.6,696.1 C550.5,693.2 552.1,691.9 554.6,687.3 C557.1,682.7 560.1,670.9 562.4,668.4 C564.7,665.9 566.4,671.0 568.6,672.4 C570.8,673.8 573.4,675.9 575.6,676.8 C577.8,677.7 580.2,677.1 582.0,678.0 C583.8,678.9 584.6,678.8 586.6,682.4 C588.6,686.0 591.6,694.0 593.7,699.4 C595.8,704.8 597.5,710.2 599.4,714.9 C601.3,719.6 603.1,723.8 605.0,727.6 C606.9,731.4 608.8,734.9 610.7,737.5 C612.6,740.1 614.4,741.6 616.3,743.1 C618.2,744.6 619.8,745.5 622.0,746.2 C624.2,746.9 627.6,746.5 629.7,747.5 C631.8,748.5 632.5,750.1 634.4,752.0 C636.3,753.9 639.1,757.6 641.4,759.0 C643.7,760.4 646.1,760.2 648.4,760.5 C650.7,760.8 653.4,760.8 655.4,761.0 C657.4,761.2 658.2,760.9 660.1,761.5 C662.0,762.1 665.9,764.0 667.0,764.5" stroke="#ff7f27" clip-path="url(#cb)"/>
<path d="M68.6,763.5 C72.3,763.1 82.9,762.4 90.9,761.0 C98.9,759.6 110.2,757.1 116.8,755.0 C123.4,752.9 126.8,750.8 130.7,748.5 C134.6,746.2 137.3,743.3 140.0,741.0 C142.7,738.7 145.3,737.2 147.1,734.5 C148.9,731.8 149.7,728.8 150.6,725.0 C151.5,721.2 152.0,716.7 152.7,712.0 C153.4,707.3 154.2,701.0 154.8,697.0 C155.4,693.0 155.4,691.3 156.0,688.0 C156.6,684.7 157.6,680.3 158.3,677.0 C159.0,673.7 159.8,670.0 160.3,668.0 C160.9,666.0 161.2,665.2 161.6,665.0 C162.0,664.8 162.4,665.5 163.0,667.0 C163.6,668.5 163.9,671.3 165.0,674.0 C166.1,676.7 168.0,682.9 169.5,683.4 C171.0,683.9 172.3,680.2 174.1,677.0 C175.9,673.8 178.4,669.7 180.2,664.0 C182.0,658.3 183.6,650.3 185.0,643.0 C186.4,635.7 187.6,627.2 188.6,620.0 C189.6,612.8 190.3,606.7 191.2,600.0 C192.1,593.3 192.9,586.7 193.8,580.0 C194.7,573.3 195.5,566.7 196.4,560.0 C197.3,553.3 197.9,547.2 199.0,540.0 C200.1,532.8 201.5,524.8 202.8,517.0 C204.1,509.2 205.5,499.8 206.7,493.0 C207.9,486.2 208.9,479.8 209.9,476.0 C210.9,472.2 211.7,471.3 212.5,470.0 C213.3,468.7 213.8,468.0 214.7,468.0 C215.6,468.0 216.8,469.0 217.7,470.0 C218.6,471.0 219.5,472.2 220.3,474.0 C221.2,475.8 221.8,477.8 222.8,481.0 C223.8,484.2 225.0,488.2 226.1,493.0 C227.2,497.8 228.2,503.8 229.3,510.0 C230.4,516.2 231.6,523.5 232.6,530.0 C233.6,536.5 234.4,542.0 235.2,549.0 C236.0,556.0 236.5,563.8 237.6,572.0 C238.7,580.2 240.4,591.2 241.8,598.0 C243.2,604.8 244.7,608.6 246.1,612.5 C247.5,616.4 248.8,619.1 250.3,621.5 C251.8,623.9 253.7,626.6 255.3,626.6 C256.9,626.6 258.6,624.1 260.2,621.5 C261.8,618.9 263.5,614.6 265.0,611.2 C266.5,607.8 267.7,604.9 269.1,601.3 C270.5,597.7 271.8,594.2 273.2,589.7 C274.6,585.2 276.3,578.0 277.4,574.0 C278.5,570.0 279.0,567.7 279.6,566.0 C280.2,564.3 280.5,563.9 281.1,563.7 C281.7,563.5 282.0,564.0 283.0,565.0 C284.0,566.0 286.2,567.6 287.3,569.4 C288.4,571.2 288.6,572.8 289.7,575.6 C290.8,578.4 292.5,583.1 293.9,586.3 C295.3,589.5 297.1,592.1 298.0,594.6 C298.9,597.1 299.1,598.2 299.6,601.2 C300.2,604.2 300.8,608.8 301.3,612.8 C301.9,616.8 302.4,620.5 302.9,625.0 C303.4,629.5 303.8,634.8 304.5,640.0 C305.2,645.2 306.2,650.8 307.3,656.0 C308.4,661.2 309.8,666.5 311.0,671.0 C312.2,675.5 313.6,679.8 314.8,683.0 C316.1,686.2 317.4,688.4 318.5,690.0 C319.6,691.6 320.1,693.7 321.2,692.5 C322.3,691.3 323.8,687.7 325.0,683.0 C326.2,678.3 327.3,667.4 328.2,664.2 C329.1,661.0 329.7,663.6 330.5,663.6 C331.3,663.6 331.8,664.3 332.8,664.2 C333.8,664.1 335.4,662.6 336.4,662.8 C337.4,663.0 337.5,663.8 338.7,665.4 C339.9,667.0 341.8,669.9 343.4,672.4 C344.9,674.9 346.6,678.0 348.0,680.5 C349.4,683.0 350.1,687.6 351.8,687.2 C353.5,686.9 356.3,682.3 358.4,678.4 C360.5,674.5 362.5,667.8 364.2,664.0 C365.9,660.2 366.2,654.5 368.6,655.8 C371.0,657.1 375.6,666.0 378.8,672.0 C382.0,678.0 385.2,687.3 387.6,692.0 C390.0,696.7 391.3,698.7 393.4,700.3 C395.5,701.9 396.8,701.1 400.0,701.5 C403.2,701.9 409.2,703.1 412.8,702.8 C416.4,702.5 419.3,699.1 421.5,699.6 C423.7,700.1 424.4,705.1 425.9,705.5 C427.4,705.9 427.5,703.2 430.3,702.2 C433.1,701.2 439.4,700.9 442.6,699.6 C445.8,698.3 447.0,697.2 449.6,694.3 C452.2,691.4 455.2,685.4 458.3,682.0 C461.4,678.6 465.1,674.5 468.0,674.2 C470.9,673.9 473.0,677.2 475.8,680.3 C478.6,683.4 481.7,689.0 484.6,692.6 C487.5,696.2 490.9,700.1 493.4,702.2 C495.9,704.3 497.7,705.1 499.5,705.2 C501.3,705.3 502.4,704.1 504.0,703.0 C505.6,701.9 506.7,698.7 509.0,698.7 C511.3,698.7 514.4,701.2 517.8,703.1 C521.2,705.0 525.7,710.4 529.2,710.1 C532.7,709.8 535.7,704.2 538.8,701.3 C541.9,698.4 544.0,695.8 547.6,692.6 C551.2,689.4 556.9,682.7 560.7,682.0 C564.5,681.3 566.6,686.4 570.3,688.2 C573.9,690.0 579.4,690.3 582.6,692.6 C585.8,694.9 587.0,697.3 589.6,702.0 C592.2,706.7 595.8,715.2 598.4,721.0 C601.0,726.8 603.1,732.9 605.2,736.5 C607.3,740.1 608.9,741.0 611.0,742.6 C613.1,744.2 615.9,745.4 618.0,746.1 C620.1,746.8 621.9,746.6 623.9,746.7 C625.9,746.8 628.0,745.9 629.7,746.7 C631.5,747.5 632.5,749.5 634.4,751.4 C636.3,753.3 639.1,757.0 641.4,758.4 C643.7,759.8 646.1,759.3 648.4,759.6 C650.7,759.9 653.4,759.9 655.4,760.1 C657.4,760.3 658.2,760.0 660.1,760.7 C662.0,761.4 665.9,763.6 667.0,764.2" stroke="#38a45a" clip-path="url(#cb)"/>
<path d="M68.6,763.5 C72.3,763.1 82.9,762.4 90.9,760.9 C98.9,759.4 110.2,756.8 116.8,754.4 C123.4,752.0 126.8,749.3 130.7,746.3 C134.6,743.3 137.5,738.9 140.0,736.5 C142.5,734.1 144.4,734.1 145.7,731.7 C147.0,729.3 147.1,726.0 147.8,722.0 C148.5,718.0 149.3,712.0 149.9,708.0 C150.5,704.0 151.1,701.3 151.5,698.0 C151.9,694.7 152.2,694.0 152.6,688.0 C153.0,682.0 153.5,671.5 154.2,662.0 C154.8,652.5 155.7,641.5 156.5,631.3 C157.3,621.1 158.2,608.9 158.8,600.7 C159.4,592.5 159.9,585.9 160.3,582.3 C160.7,578.7 160.7,579.2 161.1,579.2 C161.5,579.2 162.1,578.7 162.6,582.3 C163.1,585.9 163.7,593.8 164.2,600.7 C164.7,607.6 165.2,616.0 165.7,623.6 C166.2,631.2 166.6,640.2 167.2,646.6 C167.8,653.0 168.6,658.3 169.5,662.0 C170.4,665.7 171.4,667.9 172.6,668.9 C173.8,669.9 175.1,670.3 176.4,668.1 C177.7,665.9 178.9,660.8 180.2,655.8 C181.5,650.8 182.9,642.4 184.0,638.0 C185.1,633.6 185.7,632.3 186.5,629.3 C187.3,626.3 188.0,624.9 188.8,620.0 C189.6,615.1 190.5,606.7 191.4,600.0 C192.3,593.3 193.1,586.7 194.0,580.0 C194.9,573.3 195.7,566.7 196.6,560.0 C197.5,553.3 198.2,547.2 199.2,540.0 C200.2,532.8 201.6,524.5 202.8,517.0 C204.1,509.5 205.5,500.7 206.7,495.0 C207.9,489.3 208.8,485.8 210.0,483.0 C211.2,480.2 212.9,478.0 214.2,478.3 C215.5,478.6 216.6,483.1 217.7,484.8 C218.8,486.5 219.8,487.2 220.9,488.7 C222.0,490.2 223.2,492.4 224.1,493.9 C225.0,495.4 225.2,495.1 226.1,497.8 C227.0,500.5 228.2,504.6 229.3,510.0 C230.4,515.4 231.6,523.3 232.6,530.0 C233.6,536.7 234.4,542.7 235.2,550.0 C236.0,557.3 236.5,565.8 237.6,574.0 C238.7,582.2 240.4,592.4 241.8,599.1 C243.2,605.8 244.7,609.9 246.1,614.0 C247.5,618.1 248.7,621.5 250.3,624.0 C252.0,626.5 254.4,628.2 256.0,628.8 C257.6,629.4 258.5,628.8 260.0,627.5 C261.5,626.2 263.3,624.3 265.0,621.0 C266.7,617.7 268.6,610.5 270.0,607.8 C271.4,605.0 272.1,607.5 273.2,604.5 C274.3,601.5 275.4,594.4 276.5,589.7 C277.6,585.0 279.1,578.9 279.8,576.5 C280.5,574.1 280.2,574.8 280.7,575.2 C281.2,575.6 282.1,577.5 282.7,579.0 C283.2,580.5 283.2,582.8 284.0,583.9 C284.8,585.0 286.4,584.6 287.3,585.6 C288.2,586.6 288.8,587.4 289.7,589.7 C290.6,592.0 291.9,596.5 293.0,599.5 C294.1,602.5 295.2,605.3 296.3,607.8 C297.4,610.3 298.8,611.5 299.6,614.4 C300.4,617.3 300.5,620.1 301.3,625.0 C302.1,629.9 303.2,638.1 304.2,643.8 C305.1,649.4 305.9,653.9 307.0,658.9 C308.1,663.9 309.6,669.6 310.8,674.0 C312.1,678.4 313.2,682.5 314.5,685.3 C315.8,688.0 317.2,689.5 318.3,690.5 C319.4,691.5 320.2,692.9 321.2,691.5 C322.2,690.1 323.5,687.2 324.5,682.0 C325.5,676.8 326.1,666.0 327.0,660.0 C327.9,654.0 328.6,647.5 329.9,646.0 C331.2,644.5 333.5,649.4 335.0,650.7 C336.5,652.0 337.2,651.4 338.7,653.6 C340.2,655.8 342.2,660.1 343.8,663.8 C345.4,667.4 346.9,672.1 348.2,675.5 C349.5,678.9 350.4,683.7 351.8,684.2 C353.2,684.7 355.1,681.8 356.9,678.4 C358.7,675.0 361.0,667.6 362.8,663.8 C364.6,660.0 366.2,656.6 367.9,655.8 C369.6,654.9 371.2,657.4 373.0,658.7 C374.8,660.0 377.1,662.0 378.8,663.8 C380.5,665.6 381.7,666.7 383.2,669.6 C384.7,672.5 386.5,678.3 387.6,681.3 C388.7,684.2 389.0,685.4 390.0,687.3 C391.0,689.2 391.8,691.7 393.5,692.6 C395.2,693.5 397.3,692.2 400.5,692.9 C403.7,693.6 409.3,696.9 412.8,696.9 C416.3,696.9 419.5,693.0 421.5,692.6 C423.5,692.2 424.1,693.3 425.0,694.3 C425.9,695.3 425.9,698.4 426.8,698.7 C427.7,699.0 428.9,696.6 430.3,696.1 C431.8,695.6 433.4,696.3 435.5,695.7 C437.6,695.1 440.6,693.6 442.6,692.6 C444.7,691.6 445.8,692.0 447.8,689.9 C449.8,687.8 452.8,683.6 454.8,680.3 C456.9,676.9 458.1,672.9 460.1,669.8 C462.2,666.6 464.8,662.0 467.1,661.4 C469.4,660.8 471.8,664.0 474.1,666.3 C476.4,668.6 478.8,672.5 481.1,675.0 C483.4,677.5 486.1,680.0 488.1,681.2 C490.2,682.4 491.6,682.7 493.4,682.4 C495.1,682.1 496.9,681.8 498.6,679.4 C500.4,677.0 501.9,671.1 503.9,668.0 C505.9,664.9 508.4,661.3 510.4,661.0 C512.4,660.7 513.9,663.1 516.0,666.3 C518.1,669.5 520.5,675.7 523.0,680.3 C525.5,684.9 528.6,693.4 530.9,694.0 C533.2,694.6 535.5,685.8 537.0,683.8 C538.5,681.8 538.9,682.1 540.2,682.0 C541.5,681.9 543.1,683.8 544.9,682.9 C546.7,682.0 548.9,678.7 551.1,676.8 C553.3,674.9 556.4,672.2 558.1,671.5 C559.9,670.8 559.9,671.2 561.6,672.4 C563.4,673.6 566.0,676.8 568.6,678.5 C571.2,680.2 574.7,681.4 577.3,682.9 C579.9,684.4 581.9,683.9 584.3,687.3 C586.6,690.7 588.8,697.3 591.4,703.1 C594.0,708.9 597.8,717.0 600.1,722.3 C602.4,727.6 603.4,731.6 605.2,735.0 C607.0,738.4 608.9,740.8 611.0,742.6 C613.1,744.5 615.9,745.4 618.0,746.1 C620.1,746.8 621.9,746.6 623.9,746.7 C625.9,746.8 628.0,745.9 629.7,746.7 C631.5,747.5 632.5,749.5 634.4,751.4 C636.3,753.3 639.1,757.0 641.4,758.4 C643.7,759.8 646.1,759.3 648.4,759.6 C650.7,759.9 653.4,759.9 655.4,760.1 C657.4,760.3 658.2,760.0 660.1,760.7 C662.0,761.4 665.9,763.6 667.0,764.2" stroke="#10f020" clip-path="url(#cb)"/>
</g>
<path d="M68.6,435.5 V780.3 H666.8 V435.5 Z" stroke="#4e4e4e" stroke-width="1.5" fill="none" stroke-linejoin="round"/>
<line x1="66.8" y1="435.5" x2="69.1" y2="435.5" stroke="#222" stroke-width="1.5"/>
<rect x="64" y="798" width="1" height="7" fill="#e2e2e2"/>
<line x1="67.1" y1="481.9" x2="68.6" y2="481.9" stroke="#999" stroke-width="1"/>
<line x1="67.1" y1="528.5" x2="68.6" y2="528.5" stroke="#999" stroke-width="1"/>
<line x1="67.1" y1="575.1" x2="68.6" y2="575.1" stroke="#999" stroke-width="1"/>
<line x1="67.1" y1="621.7" x2="68.6" y2="621.7" stroke="#999" stroke-width="1"/>
<line x1="67.1" y1="668.3" x2="68.6" y2="668.3" stroke="#999" stroke-width="1"/>
<line x1="67.1" y1="714.9" x2="68.6" y2="714.9" stroke="#999" stroke-width="1"/>
<line x1="67.1" y1="761.5" x2="68.6" y2="761.5" stroke="#999" stroke-width="1"/>
<line x1="128.8" y1="780.3" x2="128.8" y2="786.8" stroke="#555" stroke-width="1.4"/>
<line x1="249.1" y1="780.3" x2="249.1" y2="786.8" stroke="#555" stroke-width="1.4"/>
<line x1="369.4" y1="780.3" x2="369.4" y2="786.8" stroke="#555" stroke-width="1.4"/>
<line x1="489.7" y1="780.3" x2="489.7" y2="786.8" stroke="#555" stroke-width="1.4"/>
<line x1="610.0" y1="780.3" x2="610.0" y2="786.8" stroke="#555" stroke-width="1.4"/>
<text class="n" x="128.4" y="809.5" text-anchor="middle">1800</text>
<text class="n" x="247.2" y="809.5" text-anchor="middle">1600</text>
<text class="n" x="369.6" y="809.5" text-anchor="middle">1400</text>
<text class="n" x="489.6" y="809.5" text-anchor="middle">1200</text>
<text class="n" x="610.0" y="809.5" text-anchor="middle">1000</text>
<text x="380.5" y="844.6" text-anchor="middle">Wavenumber (cm-1)</text>
<text transform="translate(56.8,603.6) rotate(-90)" text-anchor="middle" style="font-size:20.1px">Absorbance (arbitrary units)</text>
<line x1="542.2" y1="466.3" x2="588.1" y2="466.3" stroke="#10f020" stroke-width="2"/>
<text x="593.3" y="464.1" fill="#10f020">48h ps</text>
<line x1="542.2" y1="489.2" x2="588.1" y2="489.2" stroke="#2ea653" stroke-width="2"/>
<text x="593.3" y="487.0" fill="#2ea653">72h ps</text>
<line x1="542.2" y1="512.0" x2="588.1" y2="512.0" stroke="#ff7f27" stroke-width="2"/>
<text x="593.3" y="509.8" fill="#ff7f27">48h bf</text>
<line x1="542.2" y1="534.9" x2="588.1" y2="534.9" stroke="#ed1c24" stroke-width="2"/>
<text x="593.3" y="532.6" fill="#ed1c24">72h bf</text>
<line x1="542.2" y1="557.7" x2="588.1" y2="557.7" stroke="#10d8e0" stroke-width="2"/>
<text x="593.3" y="555.5" fill="#10d8e0">48h cf</text>
<line x1="542.2" y1="580.5" x2="588.1" y2="580.5" stroke="#1010ff" stroke-width="2"/>
<text x="593.3" y="578.3" fill="#1010ff">72h cf</text>
<line x1="542.2" y1="603.4" x2="588.1" y2="603.4" stroke="#000000" stroke-width="2"/>
<text x="593.3" y="601.2" fill="#000000">c</text>
</svg>
</body></html>
